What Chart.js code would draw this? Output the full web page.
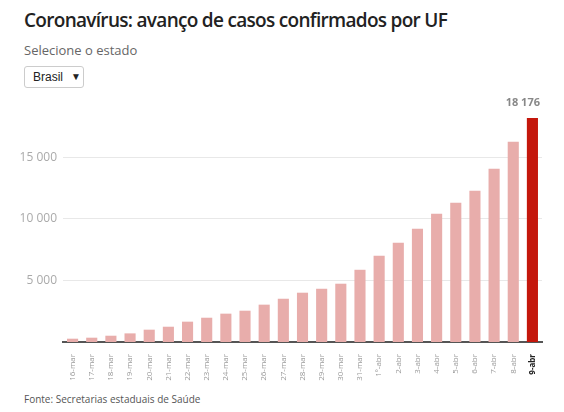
<!DOCTYPE html>
<html>
<head>
<meta charset="utf-8">
<script src="https://cdn.jsdelivr.net/npm/chart.js@4"></script>
<style>
  body { margin: 0; background: #fff; font-family: "Open Sans", sans-serif; }
  #wrap { position: relative; width: 564px; height: 412px; overflow: hidden; }
  h1 { position: absolute; left: 24px; top: 7px; margin: 0; font-size: 19px; font-weight: 600; color: #222; letter-spacing: -0.7px; white-space: nowrap; }
  .sub { position: absolute; left: 24px; top: 41px; font-size: 13px; color: #666; }
  .sel { position: absolute; left: 24px; top: 66px; width: 58px; height: 20px; border: 1px solid #ccc; border-radius: 3px;
         font-family: "Liberation Sans", Arial, sans-serif; font-size: 12px; color: #222; line-height: 20px; }
  .sel span { position: absolute; left: 8px; }
  .sel b { position: absolute; left: 46px; font-size: 10px; }
  .fonte { position: absolute; left: 24px; top: 392px; font-size: 10px; color: #555; }
  canvas { position: absolute; left: 0; top: 80px; }
</style>
</head>
<body>
<div id="wrap">
  <h1>Coronavírus: avanço de casos confirmados por UF</h1>
  <div class="sub">Selecione o estado</div>
  <div class="sel"><span>Brasil</span><b>▼</b></div>
  <canvas id="casesChart" width="564" height="310"></canvas>
  <div class="fonte">Fonte: Secretarias estaduais de Saúde</div>
</div>
<script>
// Casos confirmados - Brasil
const days = ['16-mar', '17-mar', '18-mar', '19-mar', '20-mar', '21-mar', '22-mar', '23-mar', '24-mar', '25-mar',
  '26-mar', '27-mar', '28-mar', '29-mar', '30-mar', '31-mar', '1º-abr', '2-abr', '3-abr', '4-abr',
  '5-abr', '6-abr', '7-abr', '8-abr', '9-abr'];
const cases = [268, 350, 510, 700, 1000, 1240, 1650, 1970, 2300, 2540,
  3030, 3510, 4000, 4320, 4730, 5860, 7000, 8050, 9190, 10400,
  11300, 12270, 14050, 16240, 18176];
const yTicks = [5000, 10000, 15000];

const last = cases.length - 1;
const fmt = v => String(v).replace(/\B(?=(\d{3})+(?!\d))/g, ' ');

// label over the last bar
const lastLabel = {
  id: 'lastLabel',
  afterDatasetsDraw(chart) {
    const bar = chart.getDatasetMeta(0).data[last];
    const ctx = chart.ctx;
    ctx.save();
    ctx.font = 'bold 11px "Open Sans"';
    ctx.fillStyle = '#888';
    ctx.textAlign = 'right';
    ctx.textBaseline = 'middle';
    ctx.fillText(fmt(cases[last]), bar.x + bar.width / 2 + 2, bar.y - 15);
    ctx.restore();
  }
};

const ctx = document.getElementById('casesChart').getContext('2d');
new Chart(ctx, {
  type: 'bar',
  data: {
    labels: days,
    datasets: [{
      data: cases,
      backgroundColor: cases.map((v, i) => i === last ? '#c4170c' : '#e8adab'),
      barPercentage: 0.58,
      categoryPercentage: 1
    }]
  },
  options: {
    responsive: false,
    animation: false,
    layout: { padding: { top: 38, right: 22, left: 0, bottom: 0 } },
    plugins: { legend: { display: false }, tooltip: { enabled: false } },
    scales: {
      x: {
        grid: { display: false },
        border: { color: '#555', width: 2 },
        afterFit: s => { s.height = 48; },
        ticks: {
          autoSkip: false,
          maxRotation: 90,
          minRotation: 90,
          padding: 4,
          color: c => c.index === last ? '#222' : '#999',
          font: c => ({ family: 'Open Sans', size: 8, weight: c.index === last ? 'bold' : 'normal' })
        }
      },
      y: {
        min: 0,
        max: 18176,
        border: { display: false },
        grid: { color: '#e8e8e8', drawTicks: false },
        afterFit: s => { s.width = 63; },
        afterBuildTicks: s => { s.ticks = yTicks.map(v => ({ value: v })); },
        ticks: {
          padding: 6,
          color: '#aaa',
          font: { family: 'Open Sans', size: 12 },
          callback: v => fmt(v)
        }
      }
    }
  },
  plugins: [lastLabel]
});
</script>
</body>
</html>
